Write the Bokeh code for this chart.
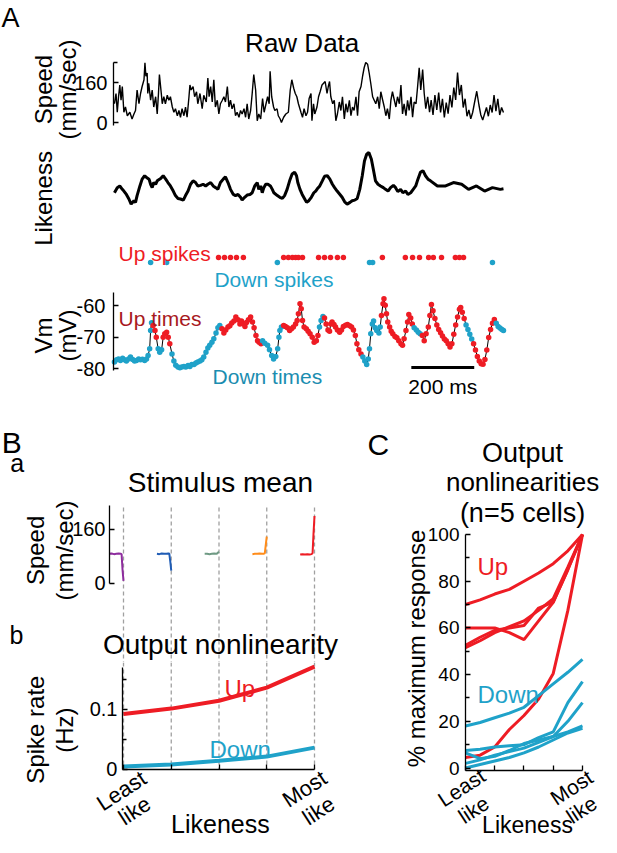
from math import pi
from bokeh.plotting import figure
from bokeh.models import Range1d, Label, FixedTicker, LinearAxis
from bokeh.layouts import column, row
from bokeh.embed import file_html
from bokeh.resources import INLINE

# ---------------- data: panel A (time in ms) ----------------
speed_t = [3, 8, 12, 16, 20, 24, 28, 33, 38, 44, 52, 59, 65, 70, 75, 81, 86, 91, 97, 100, 103, 107, 109, 112,
           118, 123, 128, 134, 139, 143, 146, 152, 155, 160, 165, 171, 176, 181, 187, 192, 197, 203, 208, 213,
           218, 224, 229, 234, 240, 243, 247, 253, 258, 264, 268, 275, 282, 287, 295, 300, 304, 309, 314, 319,
           324, 330, 335, 340, 346, 351, 356, 362, 367, 372, 377, 383, 388, 393, 399, 404, 409, 415, 420, 425,
           430, 436, 441, 446, 452, 457, 462, 468, 474, 479, 485, 490, 495, 498, 503, 509, 513, 520, 524, 530,
           534, 541, 548, 556, 562, 567, 573, 578, 583, 588, 596, 601, 606, 612, 617, 622, 628, 631, 636, 640,
           647, 652, 657, 663, 668, 673, 679, 683, 687, 691, 697, 702, 707, 712, 718, 723, 728, 734, 739, 744,
           750, 755, 760, 765, 771, 776, 781, 787, 792, 797, 802, 808, 813, 818, 824, 829, 834, 840, 845, 850,
           856, 861, 866, 871, 877, 882, 887, 893, 898, 903, 909, 914, 919, 924, 930, 935, 940, 946, 951, 956,
           962, 967, 972, 977, 983, 988, 993, 999, 1005, 1010, 1016, 1022, 1028, 1034, 1040, 1046, 1052, 1058,
           1064, 1070, 1076, 1082, 1088, 1094, 1100, 1106, 1112, 1118, 1124, 1130, 1136, 1142, 1148, 1155,
           1162, 1168, 1174, 1180, 1186, 1192, 1198, 1204, 1210, 1216, 1222, 1228, 1234, 1240]
speed_v = [75, 116, 41, 103, 150, 89, 144, 41, 62, 27, 41, 14, 34, 48, 130, 75, 116, 144, 171, 239, 185, 198, 116,
           157, 89, 130, 62, 103, 34, 116, 192, 116, 75, 103, 75, 109, 89, 103, 62, 41, 55, 27, 48, 21, 55, 27,
           62, 21, 103, 150, 130, 144, 103, 123, 75, 116, 55, 109, 82, 178, 103, 144, 82, 171, 62, 89, 34, 75,
           89, 103, 82, 144, 62, 89, 55, 75, 27, 41, 21, 48, 34, 55, 21, 75, 14, 48, 116, 192, 130, 7, 34, 14,
           96, 41, 75, 103, 75, 205, 103, 62, 48, 55, 27, 14, 0, 21, 34, 41, 130, 171, 137, 116, 103, 75, 41, 21,
           55, 27, 41, 96, 116, 7, 75, 34, 62, 103, 123, 150, 157, 164, 116, 144, 164, 103, 75, 89, 7, 34, 82, 48,
           103, 14, 75, 41, 89, 27, 62, 48, 103, 27, 123, 144, 185, 219, 240, 233, 198, 157, 103, 89, 75, 103, 55,
           123, 89, 62, 27, 55, 14, 89, 123, 89, 62, 103, 75, 150, 34, 75, 27, 89, 48, 103, 21, 82, 75, 144, 219,
           130, 212, 116, 55, 103, 41, 90, 30, 110, 50, 120, 40, 95, 20, 80, 35, 110, 60, 140, 90, 200, 110, 150,
           60, 95, 25, 50, 15, 40, 80, 125, 70, 30, 10, 35, 60, 25, 70, 40, 110, 45, 95, 30, 60, 40]

like_t = [3, 12, 20, 28, 33, 41, 49, 56, 65, 70, 75, 84, 91, 99, 105, 113, 118, 123, 128, 134, 139, 150, 158,
          166, 173, 181, 190, 197, 205, 213, 222, 229, 237, 245, 253, 261, 268, 277, 285, 293, 300, 309, 317, 325,
          332, 340, 349, 356, 364, 372, 381, 388, 396, 404, 409, 417, 425, 434, 441, 449, 457, 462, 468, 473, 478,
          484, 491, 499, 505, 510, 521, 529, 537, 544, 552, 560, 568, 576, 582, 586, 593, 600, 608, 614, 621, 629,
          637, 643, 648, 656, 664, 671, 680, 688, 696, 703, 711, 720, 727, 735, 743, 752, 759, 767, 775, 783, 791,
          798, 805, 812, 820, 826, 833, 841, 849, 858, 865, 873, 881, 890, 897, 904, 913, 920, 929, 936, 945, 953,
          961, 968, 976, 984, 992, 1000, 1008, 1030, 1056, 1081, 1107, 1129, 1154, 1180, 1205, 1230, 1240]
like_v = [0.29, 0.38, 0.41, 0.35, 0.32, 0.26, 0.18, 0.09, 0.15, 0.12, 0.24, 0.41, 0.53, 0.59, 0.56, 0.53, 0.44,
          0.38, 0.47, 0.44, 0.50, 0.54, 0.59, 0.53, 0.47, 0.41, 0.32, 0.24, 0.19, 0.18, 0.16, 0.24, 0.32, 0.44,
          0.50, 0.47, 0.41, 0.42, 0.44, 0.41, 0.44, 0.47, 0.41, 0.38, 0.35, 0.47, 0.53, 0.57, 0.47, 0.35, 0.26,
          0.24, 0.26, 0.21, 0.16, 0.21, 0.25, 0.26, 0.29, 0.41, 0.47, 0.35, 0.41, 0.29, 0.38, 0.44, 0.44, 0.41,
          0.35, 0.29, 0.24, 0.21, 0.19, 0.24, 0.35, 0.50, 0.62, 0.65, 0.59, 0.47, 0.35, 0.26, 0.18, 0.12, 0.15,
          0.21, 0.29, 0.32, 0.36, 0.41, 0.50, 0.58, 0.59, 0.53, 0.44, 0.38, 0.32, 0.26, 0.21, 0.13, 0.09, 0.12,
          0.15, 0.16, 0.19, 0.35, 0.59, 0.85, 0.97, 1.00, 0.88, 0.71, 0.50, 0.44, 0.41, 0.38, 0.35, 0.32, 0.38,
          0.42, 0.38, 0.31, 0.35, 0.29, 0.32, 0.26, 0.29, 0.35, 0.41, 0.53, 0.65, 0.68, 0.59, 0.53, 0.50, 0.41,
          0.41, 0.47, 0.44, 0.35, 0.41, 0.32, 0.38, 0.35, 0.36]

up_spike_t = [334, 353, 372, 391, 413, 541, 556, 569, 579, 588, 601, 652, 671, 690, 712, 731, 855, 928, 951,
              973, 1002, 1017, 1043, 1087, 1100, 1113]
down_spike_t = [118, 169, 521, 814, 824, 1205]

vm_t = [3, 10, 16, 22, 29, 35, 41, 48, 54, 61, 67, 73, 80, 86, 92, 99, 105, 110, 115, 118, 121, 126, 132, 136,
        142, 147, 153, 158, 163, 169, 174, 179, 186, 192, 198, 205, 211, 217, 224, 230, 237, 243, 249, 256, 262,
        268, 275, 281, 287, 294, 300, 306, 313, 319, 326, 332, 338, 345, 351, 357, 364, 370, 376, 383, 389, 396,
        402, 407, 413, 418, 423, 429, 436, 442, 447, 453, 458, 463, 469, 474, 481, 490, 496, 503, 509, 516, 522,
        526, 529, 534, 541, 547, 553, 560, 566, 572, 579, 584, 588, 593, 597, 601, 606, 613, 619, 625, 632, 638,
        645, 650, 655, 660, 666, 671, 676, 682, 687, 691, 695, 701, 706, 712, 719, 725, 731, 738, 744, 751, 757,
        763, 769, 774, 780, 787, 793, 799, 805, 810, 814, 818, 823, 827, 832, 837, 844, 848, 852, 857, 860, 864,
        868, 872, 878, 883, 888, 895, 901, 907, 914, 919, 924, 930, 935, 939, 945, 950, 956, 963, 969, 975, 982,
        988, 994, 1001, 1006, 1011, 1016, 1022, 1028, 1034, 1040, 1046, 1052, 1058, 1064, 1070, 1076, 1082, 1088,
        1094, 1100, 1104, 1109, 1115, 1121, 1127, 1133, 1139, 1145, 1151, 1157, 1163, 1169, 1175, 1181, 1187,
        1193, 1199, 1205, 1211, 1217, 1223, 1229, 1235, 1240]
vm_v = [-77.8, -77.1, -76.8, -77.3, -76.6, -77.1, -77.5, -76.8, -76.2, -77.0, -77.5, -77.3, -76.8, -77.1, -76.9,
        -77.3, -76.8, -75.7, -73.6, -67.8, -65.3, -66.2, -67.8, -69.9, -73.6, -74.7, -73.9, -69.9, -68.8, -68.3,
        -69.9, -72.0, -75.2, -77.5, -78.8, -79.4, -79.6, -79.4, -79.2, -79.4, -78.9, -79.2, -78.6, -78.6, -78.1,
        -77.8, -77.5, -77.1, -76.2, -74.7, -73.3, -72.5, -71.5, -70.4, -68.6, -66.9, -66.2, -67.2, -68.6, -67.6,
        -66.7, -66.3, -65.4, -64.8, -63.5, -64.4, -65.7, -64.8, -65.7, -66.5, -65.2, -64.4, -63.5, -65.1, -66.9,
        -69.4, -71.0, -71.5, -72.0, -71.0, -71.8, -72.5, -73.9, -75.7, -76.8, -76.0, -73.6, -69.9, -67.8, -66.7,
        -66.2, -66.5, -66.9, -67.8, -67.2, -66.7, -65.7, -64.6, -62.5, -59.3, -60.9, -64.6, -66.7, -67.2, -68.0,
        -68.8, -69.9, -71.5, -71.0, -69.4, -66.7, -64.6, -63.3, -63.8, -65.7, -67.6, -68.0, -65.7, -65.1, -65.9,
        -66.7, -67.6, -68.3, -67.6, -66.5, -66.1, -65.9, -66.3, -66.7, -67.6, -69.4, -72.0, -73.9, -75.2, -76.2,
        -77.5, -78.6, -76.8, -73.6, -68.8, -65.7, -64.8, -66.9, -67.8, -68.6, -66.7, -63.0, -59.3, -57.7, -59.8,
        -62.5, -65.1, -66.7, -68.0, -68.8, -69.7, -70.1, -71.0, -72.0, -72.5, -70.4, -67.8, -65.1, -62.7, -63.8,
        -65.7, -66.9, -67.6, -68.3, -68.8, -69.4, -71.0, -68.8, -66.7, -63.0, -59.5, -61.5, -64.0, -66.0, -67.5,
        -68.5, -69.5, -70.5, -71.0, -72.0, -73.0, -72.0, -69.0, -66.0, -63.5, -61.0, -60.5, -62.0, -64.0, -66.0,
        -67.5, -69.0, -70.5, -72.0, -74.0, -76.0, -77.5, -78.3, -78.5, -77.0, -74.0, -70.0, -67.5, -65.5, -64.3,
        -65.5, -66.5, -67.0, -67.5, -67.8]
vm_state = list(
    "ddddddddddddddddddddd" "uuu" "ddd" "uuuuu" "ddddddddddddddddddddddddd" "uuuuuuuuuuuuuuuuuuuuuu" "d"
    "dddddddddd" "uuuuuuuuuuuuuuuuuuuu" "ddd" "uuuuuuuuuuuuuuuuuuuuu" "dddddddddddd" "uuuuuuuuuuuuuuuuuuuu"
    "dddd" "uuuuuuuuuuuuuuuuuuuuuuuu" "dddd" "uuuuuuuuuuuu" "dddddddddddd" "uuuuuuu")

# ---------------- data: panel B ----------------
likeness_bins = [1, 2, 3, 4, 5]
stim_t = [-60, -50, -40, -30, -20, -12, -8, -4, 0]          # ms before spike
stim_bin1 = [88, 89, 87, 88, 89, 88, 87, 40, 8]
stim_bin2 = [88, 87, 89, 88, 88, 89, 88, 65, 38]
stim_bin3 = [88, 88, 87, 88, 89, 88, 89, 92, 94]
stim_bin4 = [87, 88, 88, 89, 88, 88, 90, 115, 139]
stim_bin5 = [86, 87, 86, 87, 86, 87, 90, 150, 200]
rate_up = [0.092, 0.101, 0.114, 0.136, 0.171]
rate_down = [0.0045, 0.008, 0.014, 0.021, 0.036]

# ---------------- data: panel C ----------------
c_x = [1, 1.5, 2, 2.5, 3, 3.5, 4, 4.5, 5]
c_up_cells = [
    [70, 72, 74.5, 76.5, 80, 83.5, 87.5, 93, 100],
    [60, 60, 60, 58, 55, 63, 71, 85, 100],
    [51.5, 54.5, 58, 60.5, 63, 67.5, 72.5, 86, 100],
    [52.5, 56, 59, 60, 61, 68.5, 71, 85, 100],
    [4.5, 5.5, 9, 16.5, 22.5, 29.5, 40.5, 67.5, 100],
]
c_down_cells = [
    [18, 19.5, 21.5, 23.5, 26, 31, 36, 41, 46.5],
    [7.5, 8, 9, 9.5, 10, 13, 15.5, 28, 37],
    [6.5, 4, 5, 7.5, 10.5, 12, 13.5, 20, 28],
    [2, 3.5, 5.5, 7, 8.5, 11, 13.5, 15.5, 18],
    [0, 1.5, 3, 4.5, 6.5, 9, 12, 15, 17],
]

# ---------------- style ----------------
FONT = "Liberation Sans"
RED = "#ee1c24"
BLUE = "#1fa2c9"
DARKRED = "#a8191e"
TEAL = "#1b8db0"
STIM_COLORS = ["#8e2c9e", "#1f5cb5", "#6f9a84", "#ff8c1a", "#ee1c24"]
DASH_COLOR = "#a0a0a0"


def make_fig(w, h, xr, yr):
    p = figure(width=w, height=h, x_range=xr, y_range=yr, x_axis_location=None, y_axis_location=None,
               toolbar_location=None, output_backend="svg",
               min_border_left=0, min_border_right=0, min_border_top=0, min_border_bottom=0)
    p.outline_line_color = None
    p.grid.grid_line_color = None
    p.background_fill_color = "white"
    p.border_fill_color = "white"
    return p


def add_axis(p, side, loc, bounds, ticks, minor=(), size="20px", standoff=6, overrides=None, labels=True):
    ax = LinearAxis(fixed_location=loc, bounds=bounds,
                    ticker=FixedTicker(ticks=list(ticks), minor_ticks=list(minor)))
    ax.axis_line_color = "black"
    ax.axis_line_width = 1.3
    ax.major_tick_line_color = "black"
    ax.major_tick_line_width = 1.3
    ax.major_tick_in = 5
    ax.major_tick_out = 0
    ax.minor_tick_line_color = "black"
    ax.minor_tick_line_width = 1.3
    ax.minor_tick_in = 4
    ax.minor_tick_out = 0
    ax.major_label_text_font = FONT
    ax.major_label_text_font_size = size
    ax.major_label_text_color = "black"
    ax.major_label_standoff = standoff
    if overrides:
        ax.major_label_overrides = overrides
    if not labels:
        ax.major_label_overrides = {t: "" for t in ticks}
    p.add_layout(ax, side)
    return ax


def lab(p, x, y, text, size, color="black", align="left", baseline="alphabetic", angle=0.0):
    p.add_layout(Label(x=x, y=y, text=text, text_font=FONT, text_font_size=size, text_color=color,
                       text_align=align, text_baseline=baseline, angle=angle))


T_RANGE = (-359.3, 1551.7)   # time axis shared by the three panel-A strips

# ---------------- Panel A: speed ----------------
f_speed = make_fig(601, 143, Range1d(*T_RANGE), Range1d(-84, 488))
add_axis(f_speed, "left", 0, (-12, 240), [0, 160], minor=[240])
f_speed.line(speed_t, speed_v, line_color="black", line_width=1.4)
lab(f_speed, -356, 420, "A", "27px")
lab(f_speed, 600, 320, "Raw Data", "26px", align="center")
lab(f_speed, -223, 132, "Speed", "24px", align="center", angle=pi / 2)
lab(f_speed, -145, 132, "(mm/sec)", "24px", align="center", angle=pi / 2)

# ---------------- Panel A: likeness + spikes ----------------
f_mid = make_fig(601, 148, Range1d(*T_RANGE), Range1d(-1.4515, 1.1587))
f_mid.extra_y_ranges = {"spk": Range1d(-5.8, 23.8)}
f_mid.line(like_t, like_v, line_color="black", line_width=3)
f_mid.scatter(up_spike_t, [1] * len(up_spike_t), y_range_name="spk", size=5.5, color=RED, line_color=None)
f_mid.scatter(down_spike_t, [0] * len(down_spike_t), y_range_name="spk", size=5.5, color=BLUE, line_color=None)
lab(f_mid, -223, 0.19, "Likeness", "24px", align="center", angle=pi / 2)
lab(f_mid, 16, -0.78, "Up spikes", "21px", color=RED)
lab(f_mid, 321, -1.24, "Down spikes", "21px", color=BLUE)

# ---------------- Panel A: Vm ----------------
f_vm = make_fig(601, 106, Range1d(*T_RANGE), Range1d(-89.048, -55.397))
add_axis(f_vm, "left", 0, (-80.48, -55.71), [-80, -70, -60], standoff=8,
         overrides={-80: "-80", -70: "-70", -60: "-60"})
f_vm.line(vm_t, vm_v, line_color="black", line_width=1)
vm_colors = [RED if s == "u" else BLUE for s in vm_state]
f_vm.scatter(vm_t, vm_v, size=5.5, color=vm_colors, line_color=None)
lab(f_vm, 16, -64.1, "Up times", "21px", color=DARKRED)
lab(f_vm, 315, -82.4, "Down times", "21px", color=TEAL)
f_vm.line([947, 1147], [-79.5, -79.5], line_color="black", line_width=3)
lab(f_vm, 1047, -85.5, "200 ms", "21px", align="center")
lab(f_vm, -223, -69.4, "Vm", "24px", align="center", angle=pi / 2)
lab(f_vm, -145, -69.4, "(mV)", "24px", align="center", angle=pi / 2)

# ---------------- Panel Ba: stimulus mean ----------------
B_RANGE = (-1.5759, 5.9005)
f_ba = make_fig(357, 265, Range1d(*B_RANGE), Range1d(-234.07, 551.1))
add_axis(f_ba, "left", 0.7068, (0, 231.1), [0, 160], standoff=4)
f_ba.segment(x0=likeness_bins, y0=[225] * 5, x1=likeness_bins, y1=[-234.07] * 5,
             line_color=DASH_COLOR, line_dash="4 3", line_width=1.3)
for b, vals, col in zip(likeness_bins, [stim_bin1, stim_bin2, stim_bin3, stim_bin4, stim_bin5], STIM_COLORS):
    f_ba.line([b + t / 200.0 for t in stim_t], vals, line_color=col, line_width=2)
lab(f_ba, -1.55, 418, "B", "30px")
lab(f_ba, -1.37, 358, "a", "25px")
lab(f_ba, 3.03, 299, "Stimulus mean", "28px", align="center")
lab(f_ba, -0.843, 98, "Speed", "24px", align="center", angle=pi / 2)
lab(f_ba, -0.235, 98, "(mm/sec)", "24px", align="center", angle=pi / 2)
lab(f_ba, -1.39, -154, "b", "25px")
lab(f_ba, 3.03, -182, "Output nonlinearity", "28px", align="center")

# ---------------- Panel Bb: output nonlinearity ----------------
f_bb = make_fig(357, 175, Range1d(*B_RANGE), Range1d(-0.11383, 0.17783))
add_axis(f_bb, "left", 0.979, (0, 0.17), [0, 0.1], minor=[0.05, 0.15], standoff=5)
add_axis(f_bb, "below", 0, (0.979, 5), likeness_bins, labels=False)
f_bb.segment(x0=likeness_bins, y0=[0.17783] * 5, x1=likeness_bins, y1=[0] * 5,
             line_color=DASH_COLOR, line_dash="4 3", line_width=1.3)
f_bb.line(likeness_bins, rate_up, line_color=RED, line_width=4)
f_bb.line(likeness_bins, rate_down, line_color=BLUE, line_width=4)
lab(f_bb, 3.115, 0.1345, "Up", "24px", color=RED)
lab(f_bb, 2.80, 0.0328, "Down", "24px", color=BLUE)
lab(f_bb, 0.958, -0.0360, "Least", "22px", align="center", baseline="middle", angle=0.58)
lab(f_bb, 1.23, -0.0690, "like", "22px", align="center", baseline="middle", angle=0.58)
lab(f_bb, 4.79, -0.0330, "Most", "22px", align="center", baseline="middle", angle=0.58)
lab(f_bb, 5.084, -0.0690, "like", "22px", align="center", baseline="middle", angle=0.58)
lab(f_bb, 3.03, -0.0905, "Likeness", "25px", align="center")
lab(f_bb, -0.843, 0.066, "Spike rate", "24px", align="center", angle=pi / 2)
lab(f_bb, -0.235, 0.065, "(Hz)", "24px", align="center", angle=pi / 2)

# ---------------- Panel C ----------------
f_c = make_fig(244, 440, Range1d(-2.692, 5.650), Range1d(-29.76, 158.67))
add_axis(f_c, "left", 1, (-1.07, 100), [0, 20, 40, 60, 80, 100], minor=[10, 30, 50, 70, 90],
         size="19px", standoff=6)
add_axis(f_c, "below", -1.07, (1, 5), likeness_bins, labels=False)
for vals in c_up_cells:
    f_c.line(c_x, vals, line_color=RED, line_width=3)
for vals in c_down_cells:
    f_c.line(c_x, vals, line_color=BLUE, line_width=3)
lab(f_c, -2.35, 138.5, "C", "30px")
lab(f_c, 2.95, 135.1, "Output", "27px", align="center")
lab(f_c, 2.95, 122.3, "nonlinearities", "26px", align="center")
lab(f_c, 2.95, 109.4, "(n=5 cells)", "27px", align="center")
lab(f_c, -0.675, 51.2, "% maximum response", "24px", align="center", angle=pi / 2)
lab(f_c, 1.41, 86.3, "Up", "24px", color=RED)
lab(f_c, 1.41, 31.5, "Down", "24px", color=BLUE)
lab(f_c, 0.863, -8.35, "Least", "21px", align="center", baseline="middle", angle=0.58)
lab(f_c, 1.274, -17.77, "like", "21px", align="center", baseline="middle", angle=0.58)
lab(f_c, 4.624, -8.35, "Most", "21px", align="center", baseline="middle", angle=0.58)
lab(f_c, 4.966, -17.77, "like", "21px", align="center", baseline="middle", angle=0.58)
lab(f_c, 3.12, -24.2, "Likeness", "23px", align="center")

layout = column(f_speed, f_mid, f_vm, row(column(f_ba, f_bb), f_c))

open("out.html", "w").write(file_html(layout, INLINE))
